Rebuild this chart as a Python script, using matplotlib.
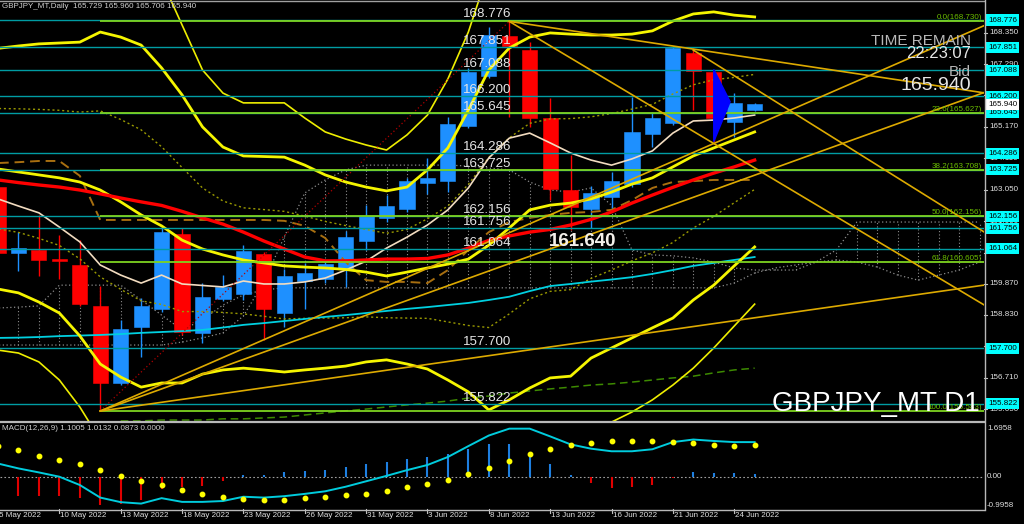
import numpy as np
import matplotlib
matplotlib.use("Agg")
import matplotlib.pyplot as plt
from matplotlib.patches import Rectangle, Polygon
from matplotlib.transforms import blended_transform_factory as btf
from matplotlib.lines import Line2D

plt.rcParams['font.family'] = ['Liberation Sans', 'DejaVu Sans']

# ---------------- data ----------------
date_ticks = ["5 May 2022", "10 May 2022", "13 May 2022", "18 May 2022", "23 May 2022",
              "26 May 2022", "31 May 2022", "3 Jun 2022", "8 Jun 2022", "13 Jun 2022",
              "16 Jun 2022", "21 Jun 2022", "24 Jun 2022"]
date_tick_bars = [0, 3, 6, 9, 12, 15, 18, 21, 24, 27, 30, 33, 36]

opens = [163.14, 160.91, 161.02, 160.70, 160.51, 159.13, 156.52, 158.43, 159.02, 161.56,
         158.23, 159.35, 159.52, 160.88, 158.88, 159.97, 160.04, 160.38, 161.32, 162.09,
         162.39, 163.27, 163.34, 165.21, 166.89, 168.25, 167.76, 165.46, 163.04, 162.39,
         162.79, 163.24, 164.93, 165.31, 167.67, 167.01, 165.35, 165.729]
highs = [163.40, 161.63, 162.20, 161.52, 161.35, 159.80, 158.65, 159.39, 161.75, 161.75,
         159.89, 160.17, 161.19, 160.95, 160.37, 160.58, 160.68, 161.66, 162.53, 162.87,
         163.45, 164.11, 165.51, 167.15, 168.55, 168.73, 168.04, 166.14, 164.22, 163.18,
         163.66, 166.19, 165.68, 167.90, 167.83, 167.09, 166.30, 165.960]
lows = [160.75, 160.32, 160.14, 160.03, 159.13, 155.583, 156.46, 157.42, 158.93, 158.15,
        157.87, 159.30, 159.33, 157.98, 158.43, 159.03, 159.90, 159.78, 161.02, 161.96,
        162.30, 162.90, 162.98, 165.13, 166.81, 165.51, 165.18, 162.70, 161.69, 161.76,
        162.37, 163.14, 164.48, 165.23, 165.74, 164.67, 164.84, 165.706]
closes = [160.92, 161.09, 160.68, 160.66, 159.18, 156.52, 158.34, 159.14, 161.63, 158.26,
          159.44, 159.78, 160.98, 159.02, 160.15, 160.24, 160.54, 161.47, 162.16, 162.50,
          163.34, 163.44, 165.26, 167.03, 168.27, 167.91, 165.46, 163.06, 162.48, 162.93,
          163.35, 165.01, 165.46, 167.82, 167.06, 165.46, 165.99, 165.940]

red_ma = [163.38, 163.29, 163.21, 163.14, 163.04, 162.91, 162.77, 162.64, 162.52, 162.32,
          162.10, 161.89, 161.62, 161.32, 161.05, 160.78, 160.65, 160.65, 160.68, 160.71,
          160.71, 160.73, 160.85, 161.08, 161.34, 161.49, 161.62, 161.71, 161.86, 162.05,
          162.30, 162.60, 162.87, 163.13, 163.38, 163.61, 163.82, 164.05]
wheat_ma = [162.74, 162.50, 162.27, 161.79, 161.29, 160.51, 160.17, 159.90, 160.17, 159.87,
            159.82, 159.77, 159.97, 159.87, 159.87, 159.94, 160.07, 160.34, 160.64, 161.08,
            161.45, 161.86, 162.37, 163.11, 164.12, 164.79, 164.96, 164.63, 164.29, 164.05,
            163.88, 164.09, 164.36, 164.96, 165.37, 165.40, 165.47, 165.57]
cyan_ma = [158.05, 158.06, 158.08, 158.11, 158.13, 158.15, 158.18, 158.22, 158.25, 158.28,
           158.32, 158.40, 158.49, 158.55, 158.62, 158.69, 158.76, 158.82, 158.89, 158.96,
           159.03, 159.09, 159.16, 159.23, 159.33, 159.44, 159.63, 159.80, 159.87, 159.95,
           160.02, 160.10, 160.21, 160.34, 160.48, 160.58, 160.68, 160.78]
bb_up = [167.82, 167.90, 167.97, 168.00, 168.03, 168.37, 168.20, 167.93, 167.16, 166.25,
         165.17, 164.49, 164.19, 164.17, 164.15, 163.88, 163.55, 163.31, 163.14, 163.01,
         163.14, 163.72, 164.46, 165.74, 167.09, 167.83, 168.20, 168.34, 168.30, 168.27,
         168.27, 168.30, 168.41, 168.74, 168.98, 169.05, 168.94, 168.88]
bb_mid = [163.75, 163.65, 163.55, 163.45, 163.31, 163.04, 162.64, 162.20, 161.83, 161.35,
          161.05, 160.85, 160.68, 160.58, 160.48, 160.44, 160.41, 160.36, 160.27, 160.14,
          160.27, 160.41, 160.54, 160.71, 161.18, 161.76, 162.37, 162.53, 162.60, 162.74,
          162.97, 163.24, 163.45, 163.82, 164.19, 164.46, 164.73, 165.00]
bb_low = [159.70, 159.57, 159.26, 158.89, 158.12, 157.17, 156.73, 156.39, 156.53, 156.53,
          156.83, 156.97, 157.03, 156.97, 156.90, 156.97, 157.03, 157.10, 157.24, 157.31,
          157.17, 157.00, 156.63, 156.23, 155.62, 155.96, 156.36, 156.70, 156.76, 157.37,
          157.71, 158.05, 158.39, 158.72, 159.33, 159.83, 160.48, 161.12]
bb_up1 = [165.79, 165.78, 165.76, 165.73, 165.67, 165.71, 165.42, 165.07, 164.50, 163.80,
          163.11, 162.67, 162.44, 162.38, 162.32, 162.16, 161.98, 161.84, 161.71, 161.58,
          161.71, 162.07, 162.50, 163.23, 164.14, 164.80, 165.29, 165.44, 165.45, 165.51,
          165.62, 165.77, 165.93, 166.28, 166.59, 166.76, 166.84, 166.94]
bb_low1 = [161.73, 161.61, 161.41, 161.17, 160.72, 160.11, 159.69, 159.30, 159.18, 158.94,
           158.94, 158.91, 158.86, 158.78, 158.69, 158.71, 158.72, 158.73, 158.76, 158.73,
           158.72, 158.71, 158.59, 158.47, 158.40, 158.86, 159.37, 159.62, 159.68, 160.06,
           160.34, 160.65, 160.92, 161.27, 161.76, 162.15, 162.61, 163.06]
nan = float('nan')
bb_up3 = [nan, nan, nan, nan, nan, nan, nan, nan, 170.13, 168.61,
          167.09, 166.31, 165.98, 165.98, 165.98, 165.47, 165.00, 164.76, 164.56, 164.39,
          164.90, 165.57, 166.79, 168.37, 170.46, nan, nan, nan, nan, nan,
          nan, nan, nan, nan, nan, nan, nan, nan]
bb_low3 = [157.64, 157.54, 157.24, 156.63, 155.72, 154.61, nan, nan, nan, nan,
           nan, nan, nan, nan, nan, nan, nan, nan, nan, nan,
           nan, nan, nan, nan, nan, nan, nan, nan, nan, 154.80,
           155.21, 155.55, 155.96, 156.46, 157.03, 157.71, 158.45, 159.19]
brown_line = [163.95, 163.98, 164.02, 164.02, 163.52, 162.03, 162.03, 162.03, 162.03, 162.03,
              162.03, 162.03, 162.03, 162.03, 162.00, 161.83, 161.42, 160.61, 160.00, 159.94,
              159.94, 159.90, 160.34, 161.02, 161.62, 161.96, 162.10, 162.20, 162.27, 162.30,
              162.37, 162.70, 163.11, 163.31, 163.34, 163.38, 163.38, 163.38]
green_dash = [nan, nan, nan, nan, nan, nan, 155.25, 155.25, 155.28, 155.28,
              155.28, 155.32, 155.32, 155.35, 155.38, 155.45, 155.52, 155.59, 155.65, 155.72,
              155.79, 155.85, 155.92, 156.02, 156.09, 156.19, 156.26, 156.33, 156.39, 156.46,
              156.50, 156.56, 156.63, 156.70, 156.76, 156.87, 156.97, 157.03]
span_a = [157.81, 157.81, 157.81, 157.81, 157.81, 157.81, 157.81, 157.81, 157.81, 157.91,
          158.05, 158.22, 158.79, 159.94, 161.46, 162.94, 163.38, 163.72, 163.88, 163.88,
          163.88, 163.88, 163.88, 163.85, 163.78, 163.72, 163.31, 163.04, 162.97, 163.11,
          162.53, 161.02, 160.85, 160.82, 160.75, 160.61, 160.41, 160.34, 160.34, 160.34,
          160.61, 161.02, 161.96, 161.96, 161.96, 161.96, 161.96, 161.96, 161.96]
span_b = [159.06, 159.09, 159.13, 159.83, 159.83, 159.83, 159.83, 159.33, 158.82, 158.32,
          158.66, 159.16, 159.50, 159.67, 159.74, 159.74, 159.74, 159.74, 159.74, 159.74,
          159.74, 159.74, 159.74, 159.74, 159.74, 159.74, 159.74, 159.74, 159.74, 159.74,
          159.74, 159.74, 159.74, 159.74, 159.74, 159.74, 159.90, 160.24, 160.41, 160.51,
          160.61, 160.68, 160.61, 160.44, 160.17, 160.00, 160.17, 160.34, 160.61]

level_values = [168.776, 167.851, 167.088, 166.200, 165.645, 164.286, 163.725,
                162.156, 161.756, 161.064, 157.700, 155.822]
fib_values = [168.730, 165.627, 163.708, 162.156, 160.605, 155.583]
fib_labels = ["0.0(168.730)", "23.6(165.627)", "38.2(163.708)", "50.0(162.156)",
              "61.8(160.605)", "100.0(155.583)"]
fib_anchor_bars = [5, 25]
fib_anchor_prices = [155.583, 168.730]
axis_ticks = [168.350, 167.290, 166.230, 165.170, 164.110, 163.050, 161.990,
              160.930, 159.870, 158.830, 157.770, 156.710, 155.650]
# trendlines: (bar0, price0, bar1, price1)
trend_lines = [(5, 155.583, 48.3, 168.61), (5, 155.583, 48.3, 166.35),
               (5, 155.583, 48.3, 159.84), (25, 168.730, 48.3, 166.31),
               (25, 168.730, 48.3, 159.13), (34, 167.76, 48.3, 161.59)]
triangle_bars = [35, 35, 35.8]
triangle_prices = [167.11, 164.67, 166.02]
bid_price = 165.940

macd_hist = [-0.62, -0.65, -0.65, -0.65, -0.73, -0.97, -0.94, -0.79, -0.41, -0.36,
             -0.30, -0.15, 0.08, 0.08, 0.16, 0.20, 0.24, 0.35, 0.45, 0.52,
             0.64, 0.69, 0.80, 0.99, 1.17, 1.17, 0.89, 0.47, 0.08, -0.21,
             -0.38, -0.36, -0.29, -0.02, 0.16, 0.14, 0.14, 0.0873]
macd_dots = [1.10, 0.93, 0.75, 0.60, 0.44, 0.24, 0.03, -0.13, -0.29, -0.45,
             -0.58, -0.69, -0.76, -0.80, -0.80, -0.75, -0.70, -0.63, -0.58, -0.50,
             -0.36, -0.25, -0.09, 0.10, 0.32, 0.56, 0.82, 0.99, 1.11, 1.19,
             1.25, 1.26, 1.26, 1.24, 1.19, 1.13, 1.10, 1.13]
macd_line = [0.47, 0.30, 0.16, 0.01, -0.28, -0.72, -0.88, -0.93, -0.74, -0.87,
             -0.87, -0.84, -0.69, -0.72, -0.67, -0.59, -0.50, -0.34, -0.15, 0.04,
             0.24, 0.42, 0.70, 1.08, 1.45, 1.69, 1.69, 1.42, 1.14, 0.99,
             0.90, 0.90, 0.97, 1.22, 1.31, 1.26, 1.22, 1.22]
macd_axis_vals = [1.6958, 0.0, -0.9958]
macd_axis_labels = ["1.6958", "0.00", "-0.9958"]

# ---------------- figure ----------------
W, H = 1024, 524
fig = plt.figure(figsize=(W / 100, H / 100), dpi=100, facecolor='black')
PR = 984
ax = fig.add_axes([0, 1 - 421 / H, PR / W, 421 / H])
mx = fig.add_axes([0, 1 - 509 / H, PR / W, (509 - 423) / H])
for a in (ax, mx):
    a.set_facecolor('black')
    a.set_xlim(0.098, 48.215)
    for s in a.spines.values():
        s.set_visible(False)
    a.set_xticks([])
    a.set_yticks([])
ax.set_ylim(155.247, 169.451)
mx.set_ylim(-1.119, 1.888)

n = len(opens)
xb = np.arange(n)
xc = np.arange(len(span_a))

# Ichimoku-like dotted cloud
ax.plot(xc, span_a, color='#8c8c8c', lw=0.9, ls=(0, (1, 2)), zorder=1)
ax.plot(xc, span_b, color='#8c8c8c', lw=0.9, ls=(0, (1, 2)), zorder=1)
ax.vlines(xc, np.minimum(span_a, span_b), np.maximum(span_a, span_b),
          color='#8c8c8c', lw=0.8, linestyles=(0, (1, 2)), zorder=1)

# candles
for i in range(n):
    o, h, l, c = opens[i], highs[i], lows[i], closes[i]
    col = '#1E90FF' if c >= o else '#FF0000'
    ax.vlines(i, l, h, color=col, lw=1.0, zorder=3)
    ax.add_patch(Rectangle((i - 0.37, min(o, c)), 0.74, max(abs(c - o), 0.03),
                           facecolor=col, edgecolor=col, lw=0.4, zorder=4))

# indicators
ax.plot(xb, bb_up1, color='#9a9a00', lw=1.0, ls=(0, (1.5, 2)), zorder=5)
ax.plot(xb, bb_low1, color='#9a9a00', lw=1.0, ls=(0, (1.5, 2)), zorder=5)
ax.plot(xb, brown_line, color='#a86f10', lw=1.4, ls=(0, (5, 3)), zorder=5)
ax.plot(xb, green_dash, color='#3d8a00', lw=1.1, ls=(0, (5, 3)), zorder=5)
ax.plot(xb, cyan_ma, color='#00D0E0', lw=1.3, zorder=5)
ax.plot(xb, wheat_ma, color='#F2DCC0', lw=1.2, zorder=5)
ax.plot(xb, bb_up3, color='#EEEE00', lw=1.2, zorder=5)
ax.plot(xb, bb_low3, color='#EEEE00', lw=1.2, zorder=5)
ax.plot(xb, bb_up, color='#F5F500', lw=2.0, zorder=5)
ax.plot(xb, bb_mid, color='#F5F500', lw=2.0, zorder=5)
ax.plot(xb, bb_low, color='#F5F500', lw=2.0, zorder=5)
ax.plot(xb, red_ma, color='#FF0000', lw=2.4, zorder=5)

# horizontal levels
for v in level_values:
    ax.axhline(v, color='#009CA3', lw=1.0, zorder=6)
# fibonacci
ax.plot(fib_anchor_bars, fib_anchor_prices, color='#B00000', lw=0.9, ls=(0, (1, 2)), zorder=6)
for v in fib_values:
    ax.hlines(v, fib_anchor_bars[0], 50, color='#7ED321', lw=1.3, zorder=7)
# trendlines
for (b0, p0, b1, p1) in trend_lines:
    ax.plot([b0, b1], [p0, p1], color='#DDAA00', lw=1.2, zorder=8)
ax.add_patch(Polygon(list(zip(triangle_bars, triangle_prices)), closed=True,
                     facecolor='#0000FF', edgecolor='#0000FF', zorder=8))

tr_ay = btf(ax.transAxes, ax.transData)
for v in level_values:
    ax.text(463 / PR, v, f"{v:.3f}", transform=tr_ay, color='#E6E6E6', fontsize=9.6,
            ha='left', va='bottom', zorder=10)
for v, lab in zip(fib_values, fib_labels):
    ax.text(982 / PR, v, lab, transform=tr_ay, color='#6CC000', fontsize=5.8,
            ha='right', va='bottom', zorder=10)

# right price axis
for v in axis_ticks:
    ax.text(989 / PR, v, f"{v:.3f}", transform=tr_ay, color='#E0E0E0', fontsize=5.8,
            ha='left', va='center', clip_on=False, zorder=11)
    ax.plot([1.0, 1.003], [v, v], transform=tr_ay, color='#C0C0C0', lw=0.8, clip_on=False)
for v in level_values:
    ax.text(988 / PR, v, f"{v:.3f}", transform=tr_ay, color='black', fontsize=5.8,
            ha='left', va='center', clip_on=False, zorder=12,
            bbox=dict(boxstyle='square,pad=0.25', fc='#00FFFF', ec='none'))
ax.text(988 / PR, bid_price, f"{bid_price:.3f}", transform=tr_ay, color='black', fontsize=5.8,
        ha='left', va='center', clip_on=False, zorder=13,
        bbox=dict(boxstyle='square,pad=0.25', fc='white', ec='none'))

# MACD
tr_my = btf(mx.transAxes, mx.transData)
mx.axhline(0, color='#A0A0A0', lw=0.8, ls=(0, (1.5, 2)), zorder=1)
for i in range(n):
    v = macd_hist[i]
    mx.vlines(i, 0, v, color='#1E7FE0' if v >= 0 else '#E00000', lw=1.5, zorder=2)
mx.plot(xb, macd_line, color='#00CCDD', lw=1.4, zorder=3)
mx.plot(xb, macd_dots, ls='none', marker='o', ms=3.2, color='#FFFF00', zorder=4)
for v, lab in zip(macd_axis_vals, macd_axis_labels):
    mx.text(987 / PR, v, lab, transform=tr_my, color='#E0E0E0', fontsize=5.8,
            ha='left', va='center', clip_on=False)

# dates
tr_mxa = btf(mx.transData, mx.transAxes)
for b, lab in zip(date_tick_bars, date_ticks):
    mx.plot([b, b], [0, -0.05], transform=tr_mxa, color='#C0C0C0', lw=0.8, clip_on=False)
    mx.text(b + 0.05, -0.035, lab, transform=tr_mxa, color='#E0E0E0', fontsize=5.8,
            ha='left', va='top', clip_on=False)

# frame lines
def hline_px(y, x0, x1, col, lw):
    fig.add_artist(Line2D([x0 / W, x1 / W], [1 - y / H, 1 - y / H], color=col, lw=lw))
def vline_px(x, y0, y1, col, lw):
    fig.add_artist(Line2D([x / W, x / W], [1 - y0 / H, 1 - y1 / H], color=col, lw=lw))
hline_px(0.5, 0, PR, '#A0A0A0', 1.0)
hline_px(421.8, 0, PR, '#B8B8B8', 1.6)
hline_px(509.5, 0, PR, '#B8B8B8', 1.0)
vline_px(PR + 0.5, 0, 509.5, '#B8B8B8', 1.0)

# texts
fig.text(2 / W, 1 - 6 / H, "GBPJPY_MT,Daily  165.729 165.960 165.706 165.940",
         color='#D0D0D0', fontsize=5.8, ha='left', va='center')
fig.text(2 / W, 1 - 429 / H, "MACD(12,26,9) 1.1005 1.0132 0.0873 0.0000",
         color='#D0D0D0', fontsize=5.8, ha='left', va='center')
fig.text(583 / W, 1 - 241.5 / H, "161.640", color='#F4F0EA', fontsize=13.5,
         fontweight='bold', ha='center', va='center')
fig.text(971 / W, 1 - 40.5 / H, "TIME REMAIN", color='#B8B8B8', fontsize=11,
         family=['Liberation Sans Narrow', 'Liberation Sans'], ha='right', va='center')
fig.text(971 / W, 1 - 54 / H, "22:23:07", color='#E6E6E6', fontsize=12,
         ha='right', va='center')
fig.text(971 / W, 1 - 72 / H, "Bid", color='#B8B8B8', fontsize=11,
         family=['Liberation Sans Narrow', 'Liberation Sans'], ha='right', va='center')
fig.text(971 / W, 1 - 85 / H, "165.940", color='#E6E6E6', fontsize=14,
         ha='right', va='center')
fig.text(980 / W, 1 - 404 / H, "GBPJPY_MT D1", color='white', fontsize=20,
         ha='right', va='center')

fig.savefig("out.png", dpi=100, facecolor='black')
